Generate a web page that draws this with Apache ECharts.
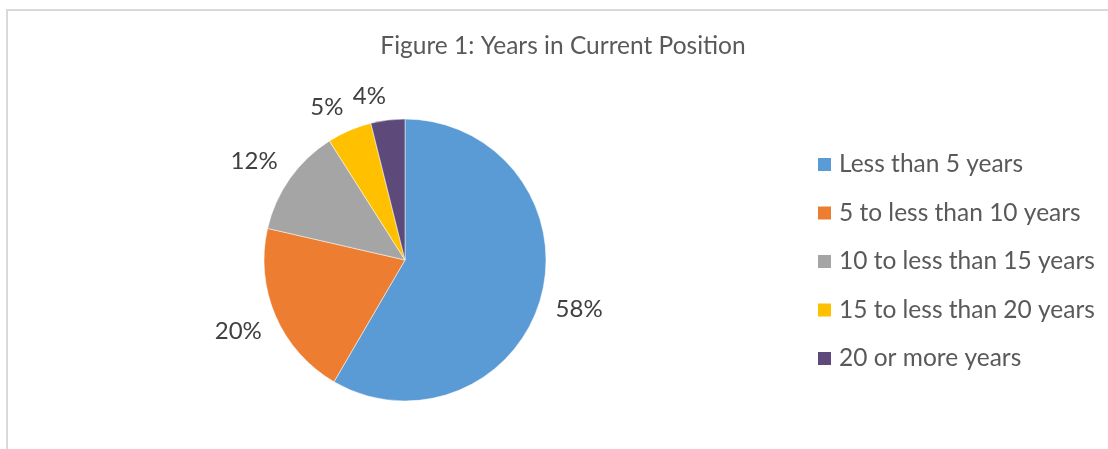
<!DOCTYPE html>
<html>
<head>
<meta charset="utf-8">
<title>Years in Current Position</title>
<script src="https://cdn.jsdelivr.net/npm/echarts@6/dist/echarts.min.js"></script>
<style>
  html, body { margin: 0; padding: 0; background: #fff; }
  #main { width: 1108px; height: 449px; }
</style>
</head>
<body>
<div id="main"></div>
<script>
// data (percent of respondents)
const categories = [
  'Less than 5 years',
  '5 to less than 10 years',
  '10 to less than 15 years',
  '15 to less than 20 years',
  '20 or more years'
];
const shares = [58.4, 20.2, 12.4, 5.1, 3.9];
const colors = ['#5b9bd5', '#ed7d31', '#a5a5a5', '#ffc000', '#5e4a7a'];

const FONT = 'Lato';
const chart = echarts.init(document.getElementById('main'));

// excel "outside end": the label corner facing the pie sits on the mid ray,
// a little beyond the edge
function placeLabel(p) {
  const pts = p.labelLinePoints;
  if (!pts) return {};
  const a = pts[0], b = pts[1];
  let dx = b[0] - a[0], dy = b[1] - a[1];
  const len = Math.hypot(dx, dy) || 1;
  dx /= len; dy /= len;
  const gap = 15;
  const w = p.labelRect.width, h = p.labelRect.height * 0.75;
  const px = a[0] + dx * gap, py = a[1] + dy * gap;
  return {
    x: px + Math.sign(dx) * w / 2,
    y: py + Math.sign(dy) * h / 2,
    align: 'center',
    verticalAlign: 'middle'
  };
}

chart.setOption({
  backgroundColor: '#fff',
  animation: false,
  color: colors,
  title: {
    text: 'Figure 1: Years in Current Position',
    left: 563,
    top: 34,
    padding: 0,
    textAlign: 'center',
    textStyle: { fontFamily: FONT, fontSize: 24.5, fontWeight: 'normal', color: '#595959' }
  },
  legend: {
    orient: 'vertical',
    left: 816,
    top: 152,
    padding: 0,
    icon: 'rect',
    itemWidth: 15,
    itemHeight: 15,
    itemGap: 23.5,
    textStyle: { fontFamily: FONT, fontSize: 24.5, color: '#595959', lineHeight: 24, padding: [0, 0, 0, 2] },
    data: categories
  },
  graphic: [{
    type: 'rect',
    silent: true,
    shape: { x: 7, y: 10, width: 1200, height: 600 },
    style: { fill: null, stroke: '#d9d9d9', lineWidth: 2 }
  }],
  series: [{
    type: 'pie',
    center: [405, 260],
    radius: 141,
    startAngle: 90,
    clockwise: true,
    avoidLabelOverlap: false,
    itemStyle: { borderColor: '#fff', borderWidth: 0.5 },
    label: {
      show: true,
      position: 'outside',
      fontFamily: FONT,
      fontSize: 24,
      color: '#404040',
      formatter: p => Math.round(p.value) + '%'
    },
    labelLine: { show: true, length: 10, length2: 0, lineStyle: { opacity: 0 } },
    labelLayout: placeLabel,
    emphasis: { disabled: true },
    data: categories.map((name, i) => ({ name, value: shares[i] }))
  }]
});
</script>
</body>
</html>
